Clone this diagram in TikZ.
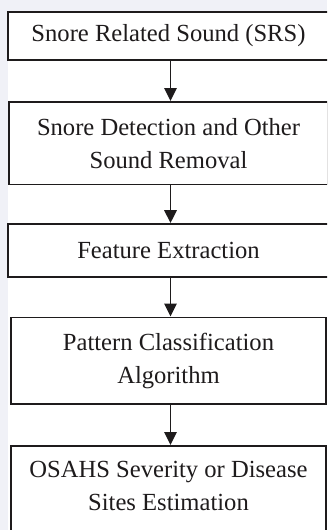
\documentclass[tikz,border=0pt]{standalone}
\usepackage{fontspec}
\setmainfont{Liberation Serif}
\usetikzlibrary{arrows.meta}
\definecolor{bg}{RGB}{240,241,247}
\definecolor{ink}{RGB}{30,27,28}
\begin{document}
\begin{tikzpicture}[x=1pt,y=1pt,
  stagebox/.style={draw=ink, line width=1.9pt, fill=white, inner sep=0pt,
    align=center, font=\fontsize{24.6}{33}\selectfont, text=ink},
  stagetext/.style={inner sep=0pt, align=center,
    font=\fontsize{24.6}{33}\selectfont, text=ink},
  flow/.style={draw=ink, line width=1.7pt, -{Triangle[width=12.5pt,length=13pt]}}]
\useasboundingbox (0,0) rectangle (327,-530);
\clip (0,0) rectangle (327,-530);
\fill[bg] (0,0) rectangle (327,-530);
\fill[white] (8,-11) rectangle (327,-530);
\node[stagebox, minimum width=321pt, minimum height=48pt] (b1) at (168.5,-36) {Snore Related Sound (SRS)};
\node[stagebox, minimum width=319pt, minimum height=82.5pt] (b2) at (168.5,-143.2) {Snore Detection and Other\\Sound Removal};
\node[stagebox, minimum width=321pt, minimum height=53pt] (b3) at (168.5,-250.5) {Feature Extraction};
\node[stagebox, minimum width=315pt, minimum height=86.5pt] (b4) at (168.5,-360.7) {Pattern Classification\\Algorithm};
\node[stagebox, minimum width=315pt, minimum height=110pt, anchor=north] (b5) at (168.5,-445) {};
\node[stagetext] (t5) at (168.5,-486) {OSAHS Severity or Disease\\Sites Estimation};
\draw[flow] ([xshift=2pt]b1.south) -- ([xshift=2pt]b2.north);
\draw[flow] ([xshift=2pt]b2.south) -- ([xshift=2pt]b3.north);
\draw[flow] ([xshift=2pt]b3.south) -- ([xshift=2pt]b4.north);
\draw[flow] ([xshift=2pt]b4.south) -- ([xshift=2pt]b5.north);
\end{tikzpicture}
\end{document}
